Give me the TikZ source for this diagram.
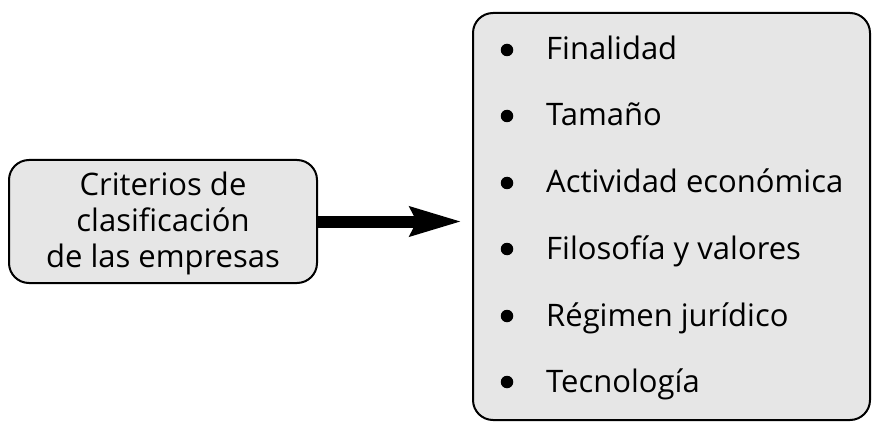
\documentclass[tikz,border=0pt]{standalone}
\usepackage{fontspec}
\setmainfont{Open Sans}
\usetikzlibrary{arrows.meta,calc}
\definecolor{boxgray}{HTML}{E6E6E6}
\tikzset{
  roundbox/.style={draw=black, line width=2pt, fill=boxgray, rounded corners=20pt, inner sep=0pt},
  itemtext/.style={anchor=base west, inner sep=0pt, font=\fontsize{31}{36}\selectfont},
  bulletdot/.style={circle, fill=black, inner sep=0pt, minimum size=12.5pt},
  bigarrow/.style={line width=12pt, -{Stealth[length=51pt, width=28pt, inset=6pt]}}
}
\begin{document}
\begin{tikzpicture}[x=1pt,y=-1pt]
\useasboundingbox (0,0) rectangle (872,422);
\node[roundbox, minimum width=308pt, minimum height=123pt] (left) at (163,221.5) {};
\node[align=center, font=\fontsize{31}{36}\selectfont, inner sep=0pt] (lefttext) at (163,223) {Criterios de\\clasificación\\de las empresas};
\node[roundbox, minimum width=397pt, minimum height=407pt] (right) at (671.5,216.5) {};
\foreach \t/\y [count=\i] in {Finalidad/60, Tamaño/126, Actividad económica/193, Filosofía y valores/259, Régimen jurídico/326, Tecnología/392}{
  \node[itemtext] (item\i) at (546,\y) {\t};
  \node[bulletdot] (dot\i) at (507,\y-10) {};
}
\draw[bigarrow, shorten >=10pt] (left.east) -- (left.east -| right.west);
\end{tikzpicture}
\end{document}
